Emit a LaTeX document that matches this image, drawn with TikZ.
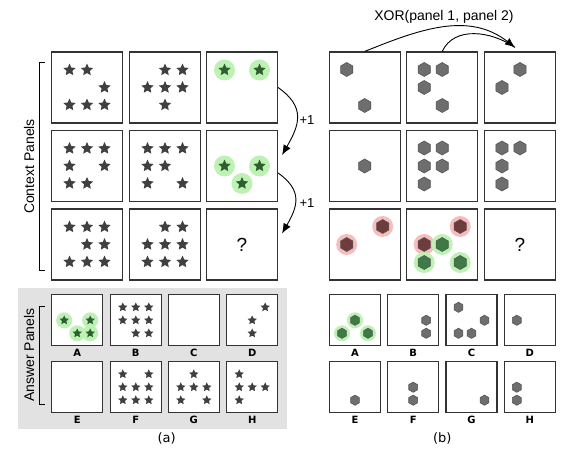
\documentclass[tikz,border=0pt]{standalone}
\usepackage{fontspec}
\setmainfont{Liberation Sans}
\newfontfamily\lblfont{DejaVu Sans}
\usetikzlibrary{arrows.meta,positioning}

\definecolor{framec}{HTML}{333333}
\definecolor{starc}{HTML}{404040}
\definecolor{gstarc}{HTML}{2F5E30}
\definecolor{ghaloc}{HTML}{BDF2B4}
\definecolor{hexc}{HTML}{6E6E6E}
\definecolor{hexline}{HTML}{555555}
\definecolor{rhexc}{HTML}{6E3C3C}
\definecolor{rhaloc}{HTML}{F7BDBD}
\definecolor{ghexc}{HTML}{3E7A46}
\definecolor{bgc}{HTML}{E2E2E2}

\tikzset{
  pnl/.style={draw=framec, line width=1.1pt, fill=white, minimum size=71pt, inner sep=0pt},
  apnl/.style={pnl, minimum size=51pt},
  lbl/.style={font=\lblfont\bfseries\fontsize{10}{10}\selectfont, inner sep=1pt},
  txt/.style={font=\fontsize{14}{14}\selectfont, inner sep=0pt},
  arr/.style={line width=0.9pt, -{Latex[length=10pt,width=8pt]}},
  starmark/.pic={\fill[pic actions] (-90:1) -- (-54:0.48) -- (-18:1) -- (18:0.48) -- (54:1) -- (90:0.48) -- (126:1) -- (162:0.48) -- (198:1) -- (234:0.48) -- cycle;},
  hexmark/.pic={\filldraw[pic actions] (-90:1) -- (-30:1) -- (30:1) -- (90:1) -- (150:1) -- (210:1) -- cycle;}
}

% #1 colour, #2 panel, #3 spacing, #4 size, #5 list of grid places
\newcommand{\stars}[5]{\foreach \i/\j in {#5} \pic[fill=#1, scale=#4] at ([shift={(\i*#3,\j*#3)}]#2.center) {starmark};}
\newcommand{\hexes}[5]{\foreach \i/\j in {#5} \pic[fill=#1, draw=hexline, line width=0.6pt, scale=#4] at ([shift={(\i*#3,\j*#3)}]#2.center) {hexmark};}
\newcommand{\halos}[5]{\foreach \i/\j in {#5} \fill[#1] ([shift={(\i*#3,\j*#3)}]#2.center) circle [radius=#4pt];}

\begin{document}
\begin{tikzpicture}[x=1pt, y=-1pt]
\useasboundingbox (0,0) rectangle (582,454);

% answer background
\fill[bgc] (18.3,288.3) rectangle (286.7,429.3);

% context panels
\foreach \r/\y in {1/87.5, 2/166, 3/244.5} {
  \foreach \c/\x in {1/87, 2/165, 3/242} \node[pnl] (a\r\c) at (\x,\y) {};
  \foreach \c/\x in {1/364.7, 2/442.2, 3/520} \node[pnl] (b\r\c) at (\x,\y) {};
}

% answer panels
\foreach \c/\x/\t in {1/77.2/A, 2/135.8/B, 3/193.8/C, 4/252.2/D} {
  \node[apnl] (pa\c) at (\x,320.3) {};
  \node[lbl, below=1.5pt of pa\c] (la\c) {\t};
}
\foreach \c/\x/\t in {1/77.2/E, 2/135.8/F, 3/193.8/G, 4/252.2/H} {
  \node[apnl] (qa\c) at (\x,387.2) {};
  \node[lbl, below=1.5pt of qa\c] (ma\c) {\t};
}
\foreach \c/\x/\t in {1/355/A, 2/413.2/B, 3/471.5/C, 4/529.8/D} {
  \node[apnl] (pb\c) at (\x,320.3) {};
  \node[lbl, below=1.5pt of pb\c] (lb\c) {\t};
}
\foreach \c/\x/\t in {1/355/E, 2/413.2/F, 3/471.5/G, 4/529.8/H} {
  \node[apnl] (qb\c) at (\x,387.2) {};
  \node[lbl, below=1.5pt of qb\c] (mb\c) {\t};
}

% stars, context
\stars{starc}{a11}{17.5}{6.4}{-1/-1,0/-1,1/0,-1/1,0/1,1/1}
\stars{starc}{a12}{17.5}{6.4}{0/-1,1/-1,-1/0,0/0,1/0,0/1}
\halos{ghaloc}{a13}{17.5}{10.5}{-1/-1,1/-1}
\stars{gstarc}{a13}{17.5}{6.4}{-1/-1,1/-1}
\stars{starc}{a21}{17.5}{6.4}{-1/-1,0/-1,1/-1,-1/0,1/0,-1/1,0/1}
\stars{starc}{a22}{17.5}{6.4}{-1/-1,0/-1,1/-1,-1/0,0/0,-1/1,1/1}
\halos{ghaloc}{a23}{17.5}{10.5}{-1/0,1/0,0/1}
\stars{gstarc}{a23}{17.5}{6.4}{-1/0,1/0,0/1}
\stars{starc}{a31}{17.5}{6.4}{-1/-1,0/-1,1/-1,0/0,1/0,-1/1,0/1,1/1}
\stars{starc}{a32}{17.5}{6.4}{0/-1,1/-1,-1/0,0/0,1/0,-1/1,0/1,1/1}
\node[font=\fontsize{19}{19}\selectfont] (qmarka) at (a33.center) {?};

% stars, answers
\halos{ghaloc}{pa1}{13}{8}{-1/0,1/0,0/1,1/1}
\stars{gstarc}{pa1}{13}{4.9}{-1/0,1/0,0/1,1/1}
\stars{starc}{pa2}{13}{4.9}{-1/-1,0/-1,1/-1,-1/0,0/0,1/0,0/1,1/1}
\stars{starc}{pa4}{13}{4.9}{1/-1,0/0,0/1}
\stars{starc}{qa2}{13}{4.9}{-1/-1,1/-1,-1/0,0/0,1/0,-1/1,0/1,1/1}
\stars{starc}{qa3}{13}{4.9}{0/-1,-1/0,0/0,1/0,-1/1,1/1}
\stars{starc}{qa4}{13}{4.9}{-1/-1,-1/0,0/0,1/0,-1/1}

% hexagons, context
\hexes{hexc}{b11}{18}{7}{-1/-1,0/1}
\hexes{hexc}{b12}{18}{7}{-1/-1,0/-1,-1/0,0/1}
\hexes{hexc}{b13}{18}{7}{0/-1,-1/0}
\hexes{hexc}{b21}{18}{7}{0/0}
\hexes{hexc}{b22}{18}{7}{-1/-1,0/-1,-1/0,0/0,-1/1}
\hexes{hexc}{b23}{18}{7}{-1/-1,0/-1,-1/0,-1/1}
\halos{rhaloc}{b31}{18}{10.5}{1/-1,-1/0}
\hexes{rhexc}{b31}{18}{7}{1/-1,-1/0}
\halos{rhaloc}{b32}{18}{10.5}{1/-1,-1/0}
\halos{ghaloc}{b32}{18}{10.5}{0/0,-1/1,1/1}
\hexes{rhexc}{b32}{18}{7}{1/-1,-1/0}
\hexes{ghexc}{b32}{18}{7}{0/0,-1/1,1/1}
\node[font=\fontsize{19}{19}\selectfont] (qmarkb) at (b33.center) {?};

% hexagons, answers
\halos{ghaloc}{pb1}{13}{8}{0/0,-1/1,1/1}
\hexes{ghexc}{pb1}{13}{5.1}{0/0,-1/1,1/1}
\hexes{hexc}{pb2}{13}{5.1}{1/0,1/1}
\hexes{hexc}{pb3}{13}{5.1}{-1/-1,1/0,-1/1,0/1}
\hexes{hexc}{pb4}{13}{5.1}{-1/0}
\hexes{hexc}{qb1}{13}{5.1}{0/1}
\hexes{hexc}{qb2}{13}{5.1}{0/0,0/1}
\hexes{hexc}{qb3}{13}{5.1}{1/1}
\hexes{hexc}{qb4}{13}{5.1}{-1/0,-1/1}

% brackets and side titles
\draw[line width=0.9pt] (45,62.3) -- (39.3,62.3) -- (39.3,270.7) -- (45,270.7);
\draw[line width=0.9pt] (45,306.7) -- (39.3,306.7) -- (39.3,404) -- (45,404);
\node[txt, rotate=90] (ctxlbl) at (29,166.5) {Context Panels};
\node[txt, rotate=90] (anslbl) at (29,355) {Answer Panels};

% +1 arrows
\coordinate (tip1) at ([xshift=4pt, yshift=11pt]a23.east);
\coordinate (tip2) at ([xshift=4pt, yshift=11pt]a33.east);
\draw[arr] (a13.east) to[out=-35, in=60, looseness=1.3] (tip1);
\draw[arr] ([yshift=-7pt]a23.east) to[out=-35, in=60, looseness=1.3] (tip2);
\node[font=\fontsize{13}{13}\selectfont] (plusa) at (307,120) {+1};
\node[font=\fontsize{13}{13}\selectfont] (plusb) at (307,203) {+1};

% xor arrows
\node[txt] (xorlbl) at (444,17.3) {XOR(panel 1, panel 2)};
\coordinate (xortip) at ([xshift=-5pt, yshift=4pt]b13.north);
\draw[line width=0.9pt] (b12.north) to[out=65, in=145] (xortip);
\draw[arr] (b11.north) to[out=22, in=142] (xortip);

% captions
\node[font=\lblfont\fontsize{13}{13}\selectfont] (capa) at (166.7,438) {(a)};
\node[font=\lblfont\fontsize{13}{13}\selectfont] (capb) at (442.3,438) {(b)};
\end{tikzpicture}
\end{document}
